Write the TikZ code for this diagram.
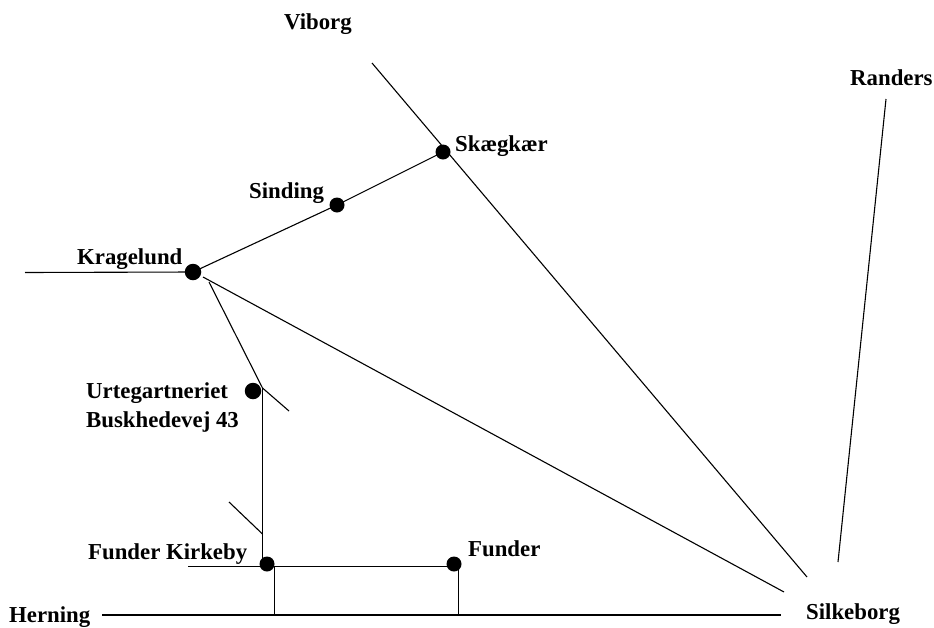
\documentclass[tikz,border=0pt]{standalone}
\usepackage{fontspec}
\setmainfont{Liberation Serif}
\tikzset{
  road/.style={draw=black,line width=1.1pt},
  town/.style={circle,fill=black,inner sep=0pt},
  big/.style={town,minimum size=16.5pt},
  small/.style={town,minimum size=15pt},
  lbl/.style={inner sep=0pt,anchor=base west,font=\fontsize{22.8}{25}\selectfont\bfseries,align=left}
}
\begin{document}
\begin{tikzpicture}[x=1pt,y=-1pt]
\useasboundingbox (0,0) rectangle (934,627);
% named ends
\coordinate (vn) at (372,63);
\coordinate (vs) at (807,577);
\coordinate (kw) at (25,272.5);
\coordinate (ks) at (203,277);
\coordinate (se) at (784,592);
\coordinate (kd) at (209,282);
\coordinate (uj) at (262.5,388);
\coordinate (ut) at (289,411);
\coordinate (vb) at (262.5,534);
\coordinate (vk) at (262.5,562);
\coordinate (tk) at (229,502);
\coordinate (fw) at (188,566.5);
\coordinate (fe) at (454,566.5);
\coordinate (a1) at (274.5,567);
\coordinate (a2) at (274.5,615);
\coordinate (b1) at (458.5,567);
\coordinate (b2) at (458.5,615);
\coordinate (hw) at (102,615);
\coordinate (he) at (781,615);
\coordinate (rn) at (886,99);
\coordinate (rs) at (838,562);
% towns
\node[small] (skaeg) at (443,152) {};
\node[small] (sind) at (337,205) {};
\node[big] (krag) at (193,272) {};
\node[big] (urt) at (253,391) {};
\node[small] (kirk) at (267,564) {};
\node[small] (fund) at (454,564) {};
% roads
\draw[road] (vn) -- (vs);
\draw[road] (krag.center) -- (sind.center) -- (skaeg.center);
\draw[road] (kw) -- (krag.center);
\draw[road] (ks) -- (se);
\draw[road] (kd) -- (uj) -- (ut);
\draw[road] (uj) -- (vk);
\draw[road] (vb) -- (tk);
\draw[road] (fw) -- (fe);
\draw[road] (a1) -- (a2);
\draw[road] (b1) -- (b2);
\draw[road] (hw) -- (he);
\draw[road] (rn) -- (rs);
% labels
\node[lbl] (l1) at (284,29) {Viborg};
\node[lbl] (l2) at (850,85) {Randers};
\node[lbl] (l3) at (455,151) {Skægkær};
\node[lbl] (l4) at (249,198) {Sinding};
\node[lbl] (l5) at (77,264) {Kragelund};
\node[lbl] (l6) at (86,398) {Urtegartneriet};
\node[lbl] (l7) at (86,427) {Buskhedevej 43};
\node[lbl] (l8) at (88,559) {Funder Kirkeby};
\node[lbl] (l9) at (468,556) {Funder};
\node[lbl] (l10) at (9,622) {Herning};
\node[lbl] (l11) at (806,619) {Silkeborg};
\end{tikzpicture}
\end{document}
